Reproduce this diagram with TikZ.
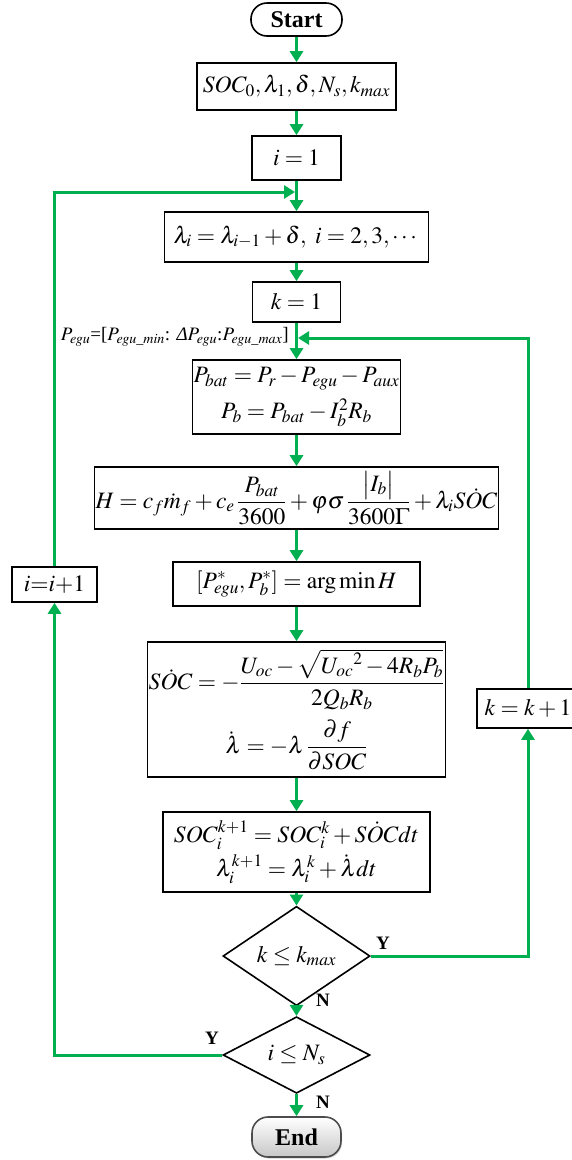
\documentclass[tikz,border=0pt]{standalone}
\usepackage{amsmath}
\usepackage{mathptmx}
\usepackage[no-math]{fontspec}
\setmainfont{Liberation Serif}
\usetikzlibrary{arrows.meta,shapes.geometric,shadows}
\definecolor{fg}{HTML}{00B050}
\newcommand{\myMath}{\fontsize{23.5}{29}\selectfont}
\newcommand{\SOCd}{S\dot{O}C}
\tikzset{
  box/.style={draw, line width=1.6pt, fill=white, inner sep=1pt, font=\myMath, align=center},
  term/.style={draw, line width=1.6pt, rounded corners=16pt, font=\fontsize{24}{28}\selectfont\bfseries, inner sep=0pt},
  dia/.style={draw, diamond, line width=1.6pt, inner sep=0pt, font=\myMath, minimum width=147pt, minimum height=72pt},
  arr/.style={draw=fg, line width=3pt, -{Triangle[length=11pt,width=13pt]}},
  yn/.style={font=\fontsize{19}{22}\selectfont\bfseries, inner sep=0pt},
}
\begin{document}
\begin{tikzpicture}[x=1pt,y=-1pt]
\useasboundingbox (0,0) rectangle (572,1160);
\clip (0,0) rectangle (572,1160);
% main column
\node[term, minimum width=91pt, minimum height=33pt] (start) at (296.5,19.5) {Start};
\node[box, minimum width=199pt, minimum height=47pt] (init) at (296.5,86.5) {$SOC_0,\lambda_1,\delta,N_s,k_{max}$};
\node[box, minimum width=89pt, minimum height=44pt] (i1) at (296.5,158) {$i=1$};
\node[box, minimum width=264pt, minimum height=50pt] (lam) at (296.5,237) {$\lambda_i=\lambda_{i-1}+\delta,\ i=2,3,\cdots$};
\node[box, minimum width=88pt, minimum height=40pt] (k1) at (296.5,302) {$k=1$};
\node[box, minimum width=192pt, minimum height=74pt] (pbat) at (296.5,397) {$P_{bat}=P_r-P_{egu}-P_{aux}$\\[7pt] $P_b=P_{bat}-I_b^2R_b$};
\node[box, minimum width=397pt, minimum height=62pt] (H) at (296.5,498) {$H=c_f\dot{m}_f+c_e\,\dfrac{P_{bat}}{3600}+\varphi\sigma\,\dfrac{\bigl|I_b\bigr|}{3600\Gamma}+\lambda_i\SOCd$};
\node[box, minimum width=247pt, minimum height=44pt] (arg) at (296.5,584) {$[P_{egu}^{*},P_b^{*}]=\arg\min H$};
\node[box, minimum width=287pt, minimum height=135pt] (soc) at (296.5,709.5) {$\SOCd=-\dfrac{U_{oc}-\sqrt{{U_{oc}}^2-4R_bP_b}}{2Q_bR_b}$\\[9pt] $\dot{\lambda}=-\lambda\,\dfrac{\partial f}{\partial SOC}$};
\node[box, minimum width=267pt, minimum height=80pt] (upd) at (296.5,852) {$SOC_i^{k+1}=SOC_i^k+\SOCd dt$\\[5pt] $\lambda_i^{k+1}=\lambda_i^k+\dot{\lambda}dt$};
\node[dia] (d1) at (296.5,956) {$k\le k_{max}$};
\node[dia] (d2) at (296.5,1055) {$i\le N_s$};
\node[term, draw=black!70, top color=white, bottom color=black!22, drop shadow={opacity=0.35, shadow xshift=1pt, shadow yshift=-1.5pt}, minimum width=89pt, minimum height=40pt] (end) at (296.5,1137) {End};
% side boxes
\node[box, minimum width=85pt, minimum height=35pt] (inc) at (54.5,584.5) {$i{=}i{+}1$};
\node[box, minimum width=102pt, minimum height=39pt] (kinc) at (528,708.5) {$k=k+1$};
% junctions
\coordinate (j1) at (295,192);
\coordinate (j2) at (298,338);
% label
\node[anchor=east, font=\fontsize{19}{22}\selectfont, inner sep=0pt] (plab) at (289,337) {$P_{egu}$=[$P_{egu\_min}$: {\itshape Δ}$P_{egu}$:$P_{egu\_max}$]};
\node[yn] (y1) at (383,943) {Y};
\node[yn] (n1) at (323,1000) {N};
\node[yn] (y2) at (212,1038) {Y};
\node[yn] (n2) at (323,1102) {N};
% connectors
\draw[arr] (start) -- (init);
\draw[arr] (init) -- (i1);
\draw[arr] (i1) -- (lam);
\draw[arr] (lam) -- (k1);
\draw[arr] (k1) -- (pbat);
\draw[arr] (pbat) -- (H);
\draw[arr] (H) -- (arg);
\draw[arr] (arg) -- (soc);
\draw[arr] (soc) -- (upd);
\draw[arr] (upd) -- (d1);
\draw[arr] (d1) -- (d2);
\draw[arr] (d2) -- (end);
\draw[arr] (d1.east) -| (kinc.south);
\draw[arr] (kinc.north) |- (j2);
\draw[arr] (d2.west) -| (inc.south);
\draw[arr] (inc.north) |- (j1);
\end{tikzpicture}
\end{document}
